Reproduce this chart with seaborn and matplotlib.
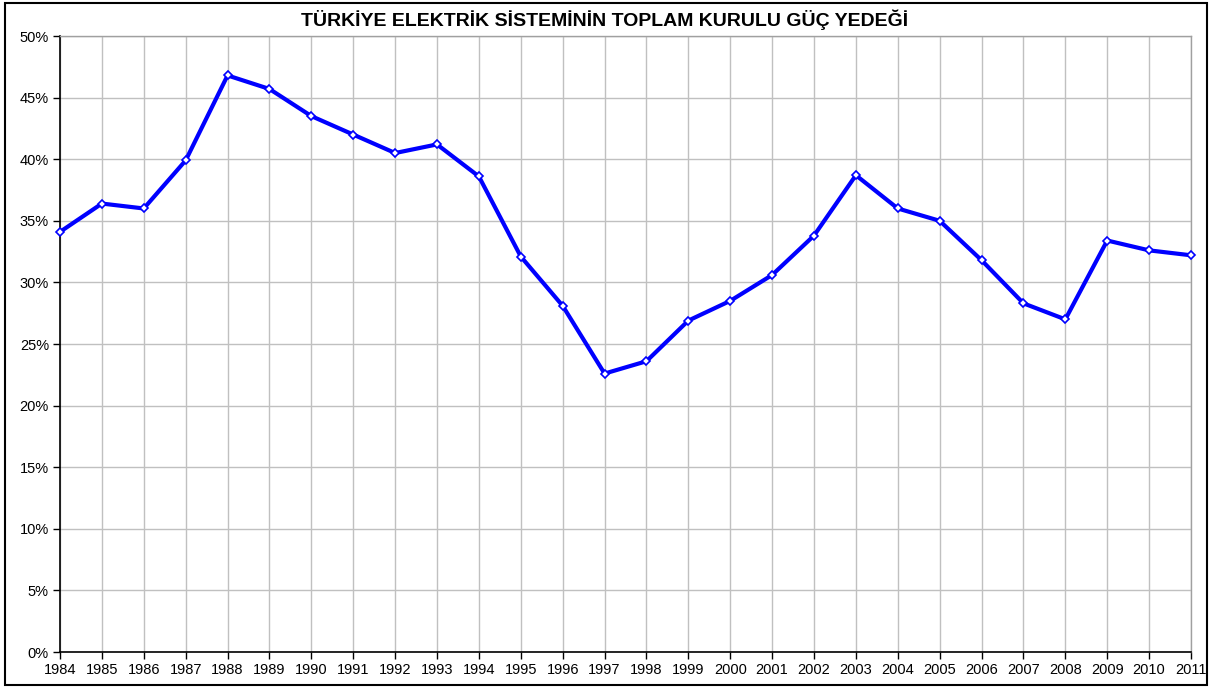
import matplotlib
matplotlib.use("Agg")
import matplotlib.pyplot as plt
import seaborn as sns
import pandas as pd
from matplotlib.ticker import PercentFormatter, MultipleLocator
from matplotlib.patches import Rectangle

years = list(range(1984, 2012))
reserve = [34.1, 36.4, 36.0, 39.9, 46.8, 45.7, 43.5, 42.0, 40.5, 41.2,
           38.6, 32.1, 28.1, 22.6, 23.6, 26.9, 28.5, 30.6, 33.8, 38.7,
           36.0, 35.0, 31.8, 28.3, 27.0, 33.4, 32.6, 32.2]
title = "TÜRKİYE ELEKTRİK SİSTEMİNİN TOPLAM KURULU GÜÇ YEDEĞİ"

df = pd.DataFrame({"year": years, "reserve": reserve})

sns.set_style("white")
plt.rcParams['font.family'] = ['Liberation Sans', 'DejaVu Sans']
plt.rcParams['text.color'] = 'black'
plt.rcParams['xtick.color'] = 'black'
plt.rcParams['ytick.color'] = 'black'
plt.rcParams['axes.labelcolor'] = 'black'

fig = plt.figure(figsize=(12.1, 6.88), dpi=100)
ax = fig.add_axes([60/1210, 1 - 652/688, (1191-60)/1210, (652-36)/688])

sns.lineplot(data=df, x="year", y="reserve", ax=ax, color="#0000FF", linewidth=3,
             marker="D", markersize=4.5, markerfacecolor="white",
             markeredgecolor="#0000FF", markeredgewidth=1.2, zorder=3)
for ln in ax.lines:
    ln.set_clip_on(False)

ax.set_xlim(1984, 2011)
ax.set_ylim(0, 50)
ax.set_xticks(years)
ax.set_xticklabels([str(y) for y in years])
ax.yaxis.set_major_locator(MultipleLocator(5))
ax.yaxis.set_major_formatter(PercentFormatter(decimals=0))
ax.grid(True, color="#c0c0c0", linewidth=1)
ax.set_axisbelow(True)
ax.set_xlabel("")
ax.set_ylabel("")
ax.tick_params(axis="both", which="both", direction="out", length=5, width=1,
               color="black", labelcolor="black", labelsize=10.5, left=True, bottom=True, pad=3)
for s in ["left", "bottom"]:
    ax.spines[s].set_color("black")
    ax.spines[s].set_linewidth(1.2)
for s in ["right", "top"]:
    ax.spines[s].set_visible(True)
    ax.spines[s].set_color("#a0a0a0")
    ax.spines[s].set_linewidth(1)

fig.text(0.5, 1 - 20/688, title, ha="center", va="center", fontsize=14,
         fontweight="bold", color="black")

fig.patches.append(Rectangle((5/1210, 3/688), 1202/1210, 682/688, transform=fig.transFigure,
                             fill=False, edgecolor="black", linewidth=1.5))

fig.savefig("out.png", dpi=100)
